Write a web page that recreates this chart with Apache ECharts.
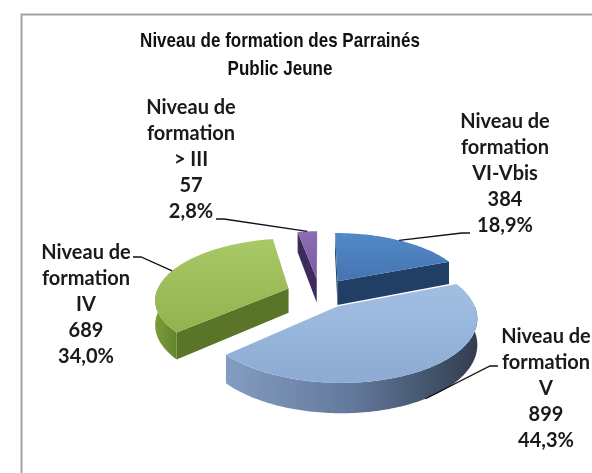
<!DOCTYPE html>
<html>
<head>
<meta charset="utf-8">
<script src="https://cdn.jsdelivr.net/npm/echarts@6/dist/echarts.min.js"></script>
<style>
  html, body { margin: 0; padding: 0; background: #fff; }
  #chart { width: 592px; height: 473px; }
</style>
</head>
<body>
<div id="chart"></div>
<script>
// niveaux, dans l'ordre des aiguilles d'une montre a partir de midi
var niveaux = ['VI-Vbis', 'V', 'IV', '> III'];
var effectifs = [384, 899, 689, 57];

var titre = 'Niveau de formation des Parrainés\nPublic Jeune';

// couleurs : dessus (degrade), flanc arrondi (degrade), face coupee
var couleurs = [
  { dessus: ['#5389c8', '#4574b0'], flanc: ['#2a4f7e', '#1c3557'], face: '#213e65' },
  { dessus: ['#a2bfe3', '#8dabd2'], flanc: ['#839cc1', '#62799b', '#323d50'], face: '#5a7090' },
  { dessus: ['#a8c966', '#91b24f'], flanc: ['#7a9c3b', '#64832d'], face: '#5a7428' },
  { dessus: ['#8b6db4', '#7a5ca2'], flanc: ['#4a3468', '#3a2854'], face: '#3e2b59' }
];

// place des etiquettes (centre du texte, haut du bloc) et depart du trait
var etiquettes = [
  { x: 505, y: 109, depart: [470, 233], coude: [462, 233], bas: false },
  { x: 546, y: 324, depart: [498, 366], coude: [490, 366], bas: true },
  { x: 86, y: 240, depart: [133, 257], coude: [141, 257], bas: false },
  { x: 191, y: 95, depart: [216, 219], coude: [224, 219], bas: false }
];

// camera du camembert 3D
var vue = { cx: 319.5, cy: 293.3, rx: 132.5, ry: 59.6, ep: 24.5, persp: 0.16, eclat: 0.25 };

var total = effectifs.reduce(function (s, v) { return s + v; }, 0);
var debut = [];
effectifs.reduce(function (s, v, i) { debut[i] = s; return s + v; }, 0);

function proj(u, v, bas) {
  var w = 1 + vue.persp * v;
  return [vue.cx + vue.rx * u / w, vue.cy - vue.ry * v / w + (bas ? vue.ep / w : 0)];
}

function pct(v) {
  return (v / total * 100).toFixed(1).replace('.', ',') + '%';
}

function degrade(stops, vertical) {
  var n = stops.length;
  return {
    type: 'linear', x: 0, y: 0, x2: vertical ? 0 : 1, y2: vertical ? 1 : 0,
    colorStops: stops.map(function (c, k) { return { offset: n > 1 ? k / (n - 1) : 0, color: c }; })
  };
}

function renderItem(params, api) {
  var i = params.dataIndex;
  var a0 = debut[i] / total * 2 * Math.PI;
  var a1 = a0 + api.value(0) / total * 2 * Math.PI;
  var mid = (a0 + a1) / 2;
  var ou = vue.eclat * Math.sin(mid), ov = vue.eclat * Math.cos(mid);
  var col = couleurs[i];
  var base = Math.round((1 - ov) * 10) * 4;

  function pt(t, r, bas) {
    return proj(ou + r * Math.sin(t), ov + r * Math.cos(t), bas);
  }
  function arc(t0, t1, bas) {
    var n = Math.max(2, Math.ceil((t1 - t0) / 0.02));
    var pts = [];
    for (var k = 0; k <= n; k++) pts.push(pt(t0 + (t1 - t0) * k / n, 1, bas));
    return pts;
  }
  // face visible si sa normale regarde la camera
  var cam = [0, -1 / vue.persp];
  function visible(t, nt) {
    var px = ou + 0.5 * Math.sin(t), pv = ov + 0.5 * Math.cos(t);
    return Math.sin(nt) * (cam[0] - px) + Math.cos(nt) * (cam[1] - pv) > 0;
  }

  var enfants = [];
  [[a0, a0 - Math.PI / 2], [a1, a1 + Math.PI / 2]].forEach(function (f) {
    if (!visible(f[0], f[1])) return;
    enfants.push({
      type: 'polygon', z2: base,
      shape: { points: [pt(f[0], 0, false), pt(f[0], 1, false), pt(f[0], 1, true), pt(f[0], 0, true)] },
      style: { fill: col.face }
    });
  });

  var lo = Math.max(a0, Math.PI / 2), hi = Math.min(a1, 3 * Math.PI / 2);
  if (lo < hi) {
    var haut = arc(lo, hi, false), bas = arc(lo, hi, true).reverse();
    enfants.push({
      type: 'polygon', z2: base + 1,
      shape: { points: haut.concat(bas) },
      style: { fill: degrade(col.flanc, false) }
    });
  }

  enfants.push({
    type: 'polygon', z2: base + 2,
    shape: { points: [pt(0, 0, false)].concat(arc(a0, a1, false)) },
    style: { fill: degrade(col.dessus, true) }
  });

  // etiquette et trait de rappel
  var et = etiquettes[i];
  var ancre = pt(mid, 1, et.bas);
  enfants.push({
    type: 'polyline', z2: 200,
    shape: { points: [et.depart, et.coude, ancre] },
    style: { stroke: '#111', lineWidth: 1.3, fill: null }
  });
  enfants.push({
    type: 'text', z2: 200, x: et.x, y: et.y,
    style: {
      text: 'Niveau de\nformation\n' + niveaux[i] + '\n' + effectifs[i] + '\n' + pct(effectifs[i]),
      fill: '#1a1a1a', fontFamily: 'Lato', fontWeight: 'bold', fontSize: 20,
      lineHeight: 26, align: 'center', verticalAlign: 'top'
    }
  });

  return { type: 'group', children: enfants };
}

var chart = echarts.init(document.getElementById('chart'));
chart.setOption({
  backgroundColor: '#fff',
  animation: false,
  graphic: [
    {
      type: 'rect', left: 19, top: 12, silent: true,
      shape: { width: 600, height: 500 },
      style: { fill: null, stroke: '#a3a3a3', lineWidth: 2 }
    },
    {
      // police etroite imitee : Liberation Sans compressee
      type: 'text', x: 280, y: 27, scaleX: 0.81, silent: true,
      style: {
        text: titre, fill: '#111',
        fontFamily: '"Liberation Sans", Arial, sans-serif',
        fontWeight: 'bold', fontSize: 21, lineHeight: 28, align: 'center', verticalAlign: 'top'
      }
    }
  ],
  series: [{
    type: 'custom',
    coordinateSystem: 'none',
    silent: true,
    renderItem: renderItem,
    data: effectifs.map(function (v) { return [v]; })
  }]
});
</script>
</body>
</html>
